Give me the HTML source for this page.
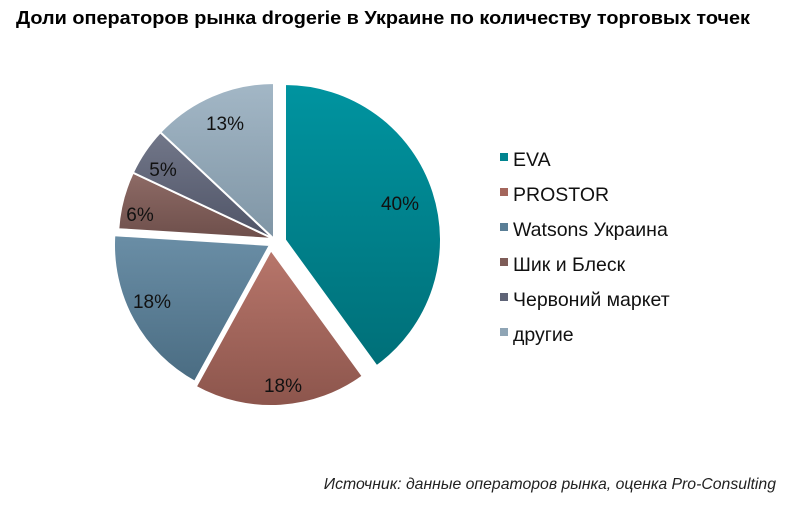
<!DOCTYPE html>
<html><head><meta charset="utf-8"><style>
body{margin:0;background:#fff;width:800px;height:514px;overflow:hidden;font-family:"Liberation Sans",sans-serif}
</style></head><body>
<svg width="800" height="514" xmlns="http://www.w3.org/2000/svg" font-family="Liberation Sans, sans-serif">
<defs>
<linearGradient id="g1" x1="0" y1="0" x2="0" y2="1"><stop offset="0" stop-color="#0094a0"/><stop offset="1" stop-color="#006f78"/></linearGradient>
<linearGradient id="g2" x1="0" y1="0" x2="0" y2="1"><stop offset="0" stop-color="#b8766b"/><stop offset="1" stop-color="#8c554c"/></linearGradient>
<linearGradient id="g3" x1="0" y1="0" x2="0" y2="1"><stop offset="0" stop-color="#6a8ea6"/><stop offset="1" stop-color="#4a6c82"/></linearGradient>
<linearGradient id="g4" x1="0" y1="0" x2="0" y2="1"><stop offset="0" stop-color="#8e6b66"/><stop offset="1" stop-color="#6e4f4b"/></linearGradient>
<linearGradient id="g5" x1="0" y1="0" x2="0" y2="1"><stop offset="0" stop-color="#727789"/><stop offset="1" stop-color="#4f5467"/></linearGradient>
<linearGradient id="g6" x1="0" y1="0" x2="0" y2="1"><stop offset="0" stop-color="#a3b7c6"/><stop offset="1" stop-color="#7f95a5"/></linearGradient>
</defs>
<text x="16" y="24" font-size="18" font-weight="bold" fill="#000" textLength="734" lengthAdjust="spacingAndGlyphs">Доли операторов  рынка drogerie  в Украине  по количеству  торговых  точек</text>
<g stroke="#fff" stroke-width="2">
<path d="M285,240 L285,84 A156,156 0 0 1 376.7,366.2 Z" fill="url(#g1)"/>
<path d="M271,250 L362.7,376.2 A156,156 0 0 1 195.8,386.7 Z" fill="url(#g2)"/>
<path d="M270,245 L194.8,381.7 A156,156 0 0 1 114.3,235.2 Z" fill="url(#g3)"/>
<path d="M274,239 L118.3,229.2 A156,156 0 0 1 132.9,172.6 Z" fill="url(#g4)"/>
<path d="M274,239 L132.9,172.6 A156,156 0 0 1 160.3,132.2 Z" fill="url(#g5)"/>
<path d="M274,239 L160.3,132.2 A156,156 0 0 1 274,83 Z" fill="url(#g6)"/>
</g>
<g font-size="19" fill="#111" text-anchor="middle">
<text x="400" y="210">40%</text>
<text x="283" y="392">18%</text>
<text x="152" y="308">18%</text>
<text x="140" y="221">6%</text>
<text x="163" y="176">5%</text>
<text x="225" y="130">13%</text>
</g>
<g font-size="19.5" fill="#111">
<rect x="500" y="153" width="8" height="8" fill="#00848f"/><text x="513" y="166">EVA</text>
<rect x="500" y="188" width="8" height="8" fill="#a4665c"/><text x="513" y="201">PROSTOR</text>
<rect x="500" y="223" width="8" height="8" fill="#5a7e96"/><text x="513" y="236">Watsons Украина</text>
<rect x="500" y="258" width="8" height="8" fill="#7e5c58"/><text x="513" y="271">Шик и Блеск</text>
<rect x="500" y="293" width="8" height="8" fill="#5f6477"/><text x="513" y="306">Червоний маркет</text>
<rect x="500" y="328" width="8" height="8" fill="#8fa5b5"/><text x="513" y="341">другие</text>
</g>
<text x="776" y="489" font-size="15.8" font-style="italic" fill="#222" text-anchor="end">Источник: данные операторов рынка, оценка Pro-Consulting</text>
</svg>
</body></html>
